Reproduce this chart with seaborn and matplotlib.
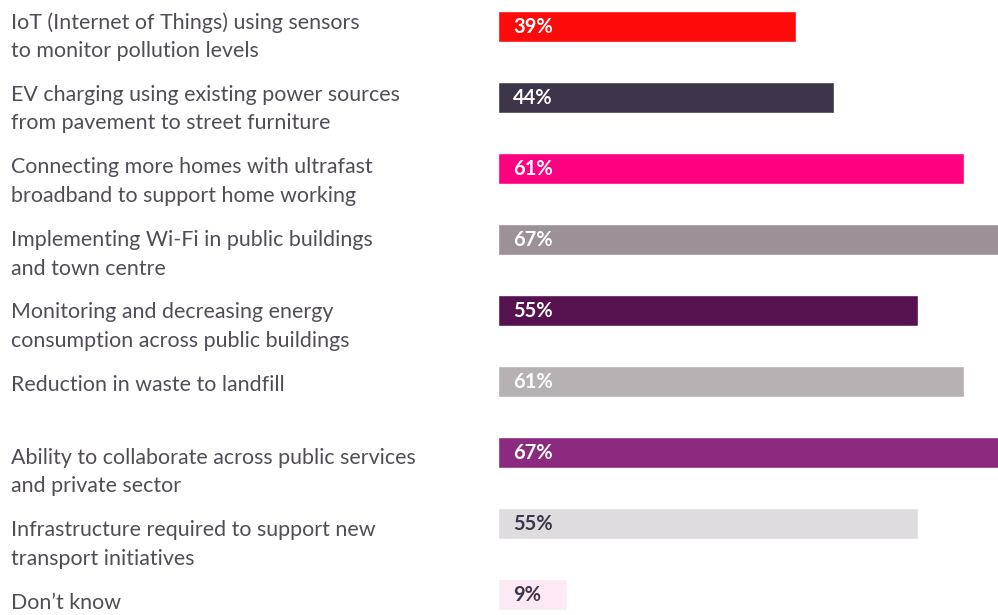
import matplotlib
matplotlib.use("Agg")
import matplotlib.pyplot as plt
import seaborn as sns
import pandas as pd

categories = [
    "IoT (Internet of Things) using sensors\nto monitor pollution levels",
    "EV charging using existing power sources\nfrom pavement to street furniture",
    "Connecting more homes with ultrafast\nbroadband to support home working",
    "Implementing Wi-Fi in public buildings\nand town centre",
    "Monitoring and decreasing energy\nconsumption across public buildings",
    "Reduction in waste to landfill",
    "Ability to collaborate across public services\nand private sector",
    "Infrastructure required to support new\ntransport initiatives",
    "Don\u2019t know",
]
values = [39, 44, 61, 67, 55, 61, 67, 55, 9]
bar_colors = ["#ff0a0a", "#3d3549", "#ff0080", "#9b9197", "#56124e",
              "#b6b2b3", "#8c2a7f", "#dfdcdf", "#fce9f4"]
value_text_colors = ["white", "white", "white", "white", "white",
                     "white", "white", "#3d3549", "#3d3549"]

df = pd.DataFrame({"category": categories, "value": values})

sns.set_theme(style="white")
plt.rcParams["font.family"] = ["Lato", "DejaVu Sans"]

W, H = 998, 615
fig = plt.figure(figsize=(W / 100, H / 100), dpi=100)

# bar area: zero at x=498 px, 7.64 px per percentage point, rows 71 px apart
x0_px, px_per_pct = 498, 7.64
row_px, first_center_px = 70.97, 26.5
top_px = first_center_px - 0.5 * row_px
bottom_px = first_center_px + 8.5 * row_px
ax = fig.add_axes([x0_px / W, (H - bottom_px) / H,
                   (W - x0_px) / W, (bottom_px - top_px) / H])

sns.barplot(data=df, x="value", y="category", hue="category",
            palette=bar_colors, legend=False, width=0.435,
            saturation=1, orient="h", ax=ax)

ax.set_xlim(0, (W - x0_px) / px_per_pct)
ax.set_ylim(8.5, -0.5)
ax.axis("off")

label_color = "#514c57"
label_size = 15.4
label_x = -(x0_px - 11) / px_per_pct
for i, (cat, val) in enumerate(zip(categories, values)):
    ax.text(2.0, i + 0.01, f"{val}%", ha="left", va="center", fontsize=14.5,
            fontweight="bold", color=value_text_colors[i])
    # first text line sits on its own 72.6 px grid starting at y=22 px
    y_first = i + (22.5 + 72.6 * i - first_center_px - row_px * i) / row_px
    if "\n" not in cat:
        ax.text(label_x, y_first, cat, ha="left", va="center",
                fontsize=label_size, color=label_color, clip_on=False)
    else:
        ax.text(label_x, y_first - 10.5 / row_px, cat, ha="left", va="top",
                fontsize=label_size, color=label_color,
                linespacing=1.55, clip_on=False)

fig.savefig("out.png", dpi=100, facecolor="white")
